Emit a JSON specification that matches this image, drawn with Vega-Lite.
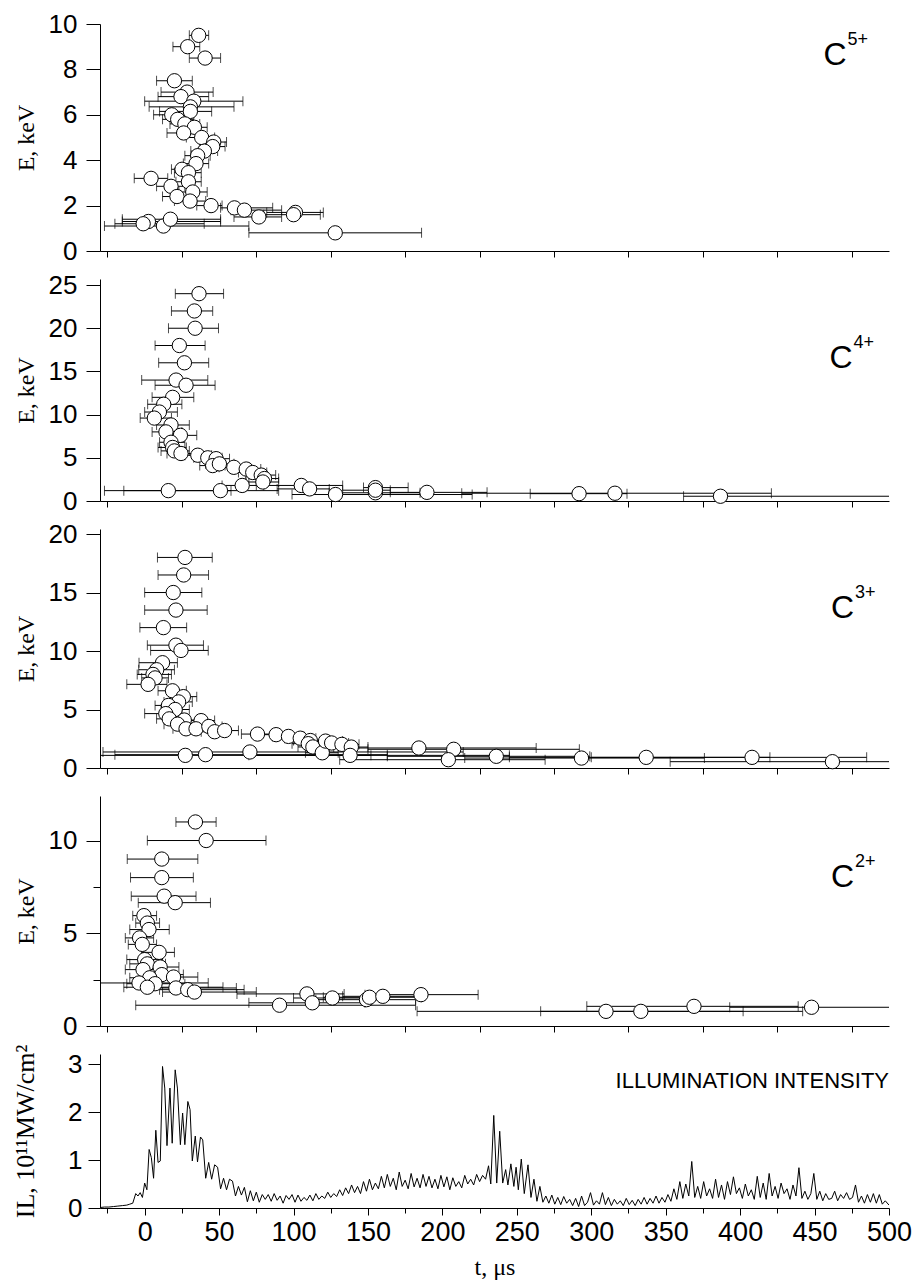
{
"$schema": "https://vega.github.io/schema/vega-lite/v6.json",
"background": "white",
"padding": {"left": 12, "top": 11, "right": 20, "bottom": 4},
"spacing": 28,
"bounds": "flush",
"datasets": {
"c5": [
{"t":36.3,"E":9.5,"lo":30,"hi":43},{"t":28.9,"E":9.0,"lo":19,"hi":37},{"t":40.6,"E":8.5,"lo":30,"hi":51},{"t":20,"E":7.5,"lo":8,"hi":32},
{"t":28.5,"E":7.0,"lo":11,"hi":46},{"t":24.4,"E":6.8,"lo":9,"hi":43},{"t":33,"E":6.6,"lo":0,"hi":66},{"t":30.7,"E":6.35,"lo":3,"hi":60},
{"t":30.7,"E":6.15,"lo":10,"hi":45},{"t":18.2,"E":6.0,"lo":6,"hi":30},{"t":22.2,"E":5.8,"lo":12,"hi":33},{"t":27,"E":5.6,"lo":17,"hi":37},
{"t":33.4,"E":5.45,"lo":24,"hi":42},{"t":26.2,"E":5.2,"lo":15,"hi":37},{"t":38.3,"E":5.0,"lo":28,"hi":47},{"t":46.4,"E":4.8,"lo":38,"hi":55},
{"t":45.7,"E":4.6,"lo":37,"hi":54},{"t":40.1,"E":4.4,"lo":31,"hi":49},{"t":35.6,"E":4.2,"lo":27,"hi":44},{"t":34.5,"E":3.85,"lo":26,"hi":43},
{"t":25.1,"E":3.6,"lo":18,"hi":32},{"t":29.4,"E":3.45,"lo":20,"hi":38},{"t":4.3,"E":3.2,"lo":-7,"hi":15.5},{"t":29.4,"E":3.05,"lo":21,"hi":38},
{"t":17.7,"E":2.85,"lo":8,"hi":27},{"t":32.3,"E":2.6,"lo":23,"hi":42},{"t":21.7,"E":2.4,"lo":12,"hi":32},{"t":30.5,"E":2.2,"lo":20,"hi":41},
{"t":44.6,"E":2.0,"lo":35,"hi":52},{"t":60.3,"E":1.9,"lo":51,"hi":86},{"t":67,"E":1.8,"lo":58,"hi":92},{"t":76.7,"E":1.5,"lo":60,"hi":92},
{"t":101.3,"E":1.7,"lo":82,"hi":120},{"t":100,"E":1.6,"lo":80,"hi":118},{"t":2.5,"E":1.3,"lo":-15,"hi":51},{"t":-1,"E":1.2,"lo":-20,"hi":40},
{"t":12.6,"E":1.1,"lo":-27,"hi":70},{"t":17.3,"E":1.4,"lo":-15,"hi":51},{"t":128,"E":0.8,"lo":70,"hi":186}
],
"c4": [
{"t":36.5,"E":24.0,"lo":20.6,"hi":53},{"t":33.4,"E":22.0,"lo":18,"hi":45.7},{"t":33.9,"E":20.0,"lo":16,"hi":49.6},{"t":23.3,"E":18.0,"lo":7,"hi":40.6},
{"t":26.7,"E":16.0,"lo":9.4,"hi":43},{"t":21.1,"E":14.0,"lo":-2,"hi":42.4},{"t":27.8,"E":13.4,"lo":7,"hi":47.3},{"t":18.8,"E":12.0,"lo":5,"hi":33},
{"t":12.8,"E":11.2,"lo":2,"hi":25},{"t":9.9,"E":10.3,"lo":0,"hi":22},{"t":6.5,"E":9.6,"lo":-3,"hi":18},{"t":17.7,"E":8.8,"lo":8,"hi":30},
{"t":14.3,"E":8.0,"lo":5,"hi":25},{"t":24,"E":7.6,"lo":14,"hi":35},{"t":17.7,"E":6.8,"lo":10,"hi":27},{"t":18.8,"E":6.2,"lo":9,"hi":28},
{"t":20,"E":5.8,"lo":11,"hi":30},{"t":24.4,"E":5.5,"lo":15,"hi":34},{"t":35.7,"E":5.3,"lo":27,"hi":45},{"t":42.4,"E":5.0,"lo":33,"hi":52},
{"t":48,"E":4.9,"lo":40,"hi":57},{"t":45.7,"E":4.1,"lo":37,"hi":54},{"t":50.2,"E":4.3,"lo":41,"hi":60},{"t":59.9,"E":3.9,"lo":50,"hi":70},
{"t":68.2,"E":3.7,"lo":58,"hi":78},{"t":72.6,"E":3.3,"lo":63,"hi":82},{"t":78.3,"E":3.0,"lo":68,"hi":88},{"t":80.5,"E":2.6,"lo":70,"hi":90},
{"t":79.4,"E":2.2,"lo":68,"hi":90},{"t":65.5,"E":1.8,"lo":52,"hi":80},{"t":105.2,"E":1.8,"lo":75,"hi":133},{"t":110.8,"E":1.4,"lo":89,"hi":124},
{"t":15.9,"E":1.2,"lo":-27,"hi":58},{"t":50.9,"E":1.2,"lo":-14,"hi":90},{"t":128.2,"E":0.75,"lo":99,"hi":220},{"t":155,"E":1.55,"lo":147,"hi":177},
{"t":155,"E":0.95,"lo":124,"hi":185},{"t":155,"E":1.25,"lo":133,"hi":165},{"t":189.6,"E":1.0,"lo":165,"hi":230},{"t":291.8,"E":0.85,"lo":259,"hi":324},
{"t":315.9,"E":0.9,"lo":213,"hi":421},{"t":386.8,"E":0.55,"lo":362,"hi":520}
],
"c3": [
{"t":27.1,"E":18.0,"lo":8.6,"hi":45.4},{"t":26.2,"E":16.5,"lo":9,"hi":42.9},{"t":19.2,"E":15.0,"lo":0,"hi":38.4},{"t":21,"E":13.5,"lo":0,"hi":42},
{"t":12.6,"E":12.0,"lo":-3.2,"hi":28.2},{"t":21,"E":10.5,"lo":1.8,"hi":39.5},{"t":24.4,"E":10.05,"lo":4,"hi":42.7},{"t":12,"E":9.0,"lo":-3.8,"hi":22},
{"t":8.1,"E":8.4,"lo":-4,"hi":20},{"t":5.6,"E":8.0,"lo":-5,"hi":18},{"t":7,"E":7.7,"lo":-2,"hi":16},{"t":2.3,"E":7.15,"lo":-12,"hi":15},
{"t":18.7,"E":6.6,"lo":9,"hi":28},{"t":26,"E":6.1,"lo":17,"hi":35},{"t":22.8,"E":5.65,"lo":13,"hi":32},{"t":16,"E":5.35,"lo":7,"hi":25},
{"t":20.5,"E":5.0,"lo":11,"hi":30},{"t":14.2,"E":4.65,"lo":0,"hi":25},{"t":16.5,"E":4.2,"lo":8,"hi":26},{"t":26.6,"E":4.1,"lo":17,"hi":36},
{"t":37.9,"E":4.05,"lo":29,"hi":47},{"t":22.1,"E":3.75,"lo":13,"hi":31},{"t":27.8,"E":3.35,"lo":19,"hi":37},{"t":34.5,"E":3.35,"lo":25,"hi":44},
{"t":43.1,"E":3.55,"lo":34,"hi":52},{"t":47,"E":3.1,"lo":38,"hi":56},{"t":53.7,"E":3.2,"lo":45,"hi":63},{"t":75.8,"E":2.9,"lo":65,"hi":86},
{"t":88.3,"E":2.85,"lo":78,"hi":98},{"t":96.6,"E":2.7,"lo":86,"hi":107},{"t":104.5,"E":2.55,"lo":94,"hi":115},{"t":111.3,"E":2.35,"lo":100,"hi":122},
{"t":109.9,"E":2.08,"lo":99,"hi":121},{"t":113,"E":1.8,"lo":103,"hi":124},{"t":119.3,"E":1.3,"lo":108,"hi":130},{"t":121.5,"E":2.3,"lo":110,"hi":133},
{"t":125.6,"E":2.14,"lo":114,"hi":137},{"t":132.5,"E":2.02,"lo":121,"hi":144},{"t":138.8,"E":1.79,"lo":127,"hi":150},{"t":138,"E":1.08,"lo":70,"hi":245},
{"t":27.3,"E":1.08,"lo":-40,"hi":152},{"t":40.9,"E":1.14,"lo":-20,"hi":163},{"t":70.7,"E":1.37,"lo":-28,"hi":214},{"t":184.2,"E":1.71,"lo":120,"hi":263},
{"t":207.6,"E":1.6,"lo":150,"hi":292},{"t":204,"E":0.71,"lo":131,"hi":269},{"t":236.2,"E":1.0,"lo":163,"hi":299},{"t":293.4,"E":0.85,"lo":215,"hi":376},
{"t":336.9,"E":0.91,"lo":245,"hi":420},{"t":408,"E":0.91,"lo":300,"hi":485},{"t":462,"E":0.54,"lo":353,"hi":520}
],
"c2": [
{"t":34.1,"E":11.0,"lo":21,"hi":48},{"t":41.3,"E":10.0,"lo":1.8,"hi":81.5},{"t":11.5,"E":9.0,"lo":-11.7,"hi":35.7},{"t":11.5,"E":8.0,"lo":-9.5,"hi":32.7},
{"t":13.1,"E":7.0,"lo":-9,"hi":34.5},{"t":20.5,"E":6.65,"lo":-4.3,"hi":44.2},{"t":-0.5,"E":5.95,"lo":-8,"hi":8},{"t":1.8,"E":5.55,"lo":-6,"hi":10},
{"t":2.9,"E":5.2,"lo":-10,"hi":16.5},{"t":-3.4,"E":4.75,"lo":-13,"hi":6},{"t":-1.6,"E":4.4,"lo":-11,"hi":8},{"t":9.7,"E":3.97,"lo":-2,"hi":20},
{"t":0,"E":3.58,"lo":-12,"hi":12},{"t":1.8,"E":3.35,"lo":-10,"hi":14},{"t":10.4,"E":3.18,"lo":-2,"hi":23},{"t":-1.1,"E":3.04,"lo":-13,"hi":11},
{"t":11.5,"E":2.77,"lo":-3,"hi":26},{"t":3.4,"E":2.6,"lo":-10,"hi":17},{"t":19.4,"E":2.64,"lo":2,"hi":35.7},{"t":-3.8,"E":2.32,"lo":-40,"hi":42.7},
{"t":7,"E":2.28,"lo":-12,"hi":27},{"t":1.8,"E":2.09,"lo":-14,"hi":52.6},{"t":21,"E":2.05,"lo":5,"hi":61.6},{"t":28.9,"E":1.96,"lo":10,"hi":66.8},
{"t":33.4,"E":1.83,"lo":12,"hi":75},{"t":109,"E":1.73,"lo":62,"hi":134},{"t":90.6,"E":1.12,"lo":-6,"hi":182},{"t":112.6,"E":1.25,"lo":70,"hi":148},
{"t":126.1,"E":1.51,"lo":100,"hi":160},{"t":149,"E":1.42,"lo":115,"hi":182},{"t":151,"E":1.55,"lo":120,"hi":186},{"t":160,"E":1.6,"lo":133,"hi":186},
{"t":185.6,"E":1.69,"lo":148,"hi":224},{"t":309.9,"E":0.79,"lo":183,"hi":442},{"t":333.3,"E":0.79,"lo":266,"hi":402},{"t":369,"E":1.06,"lo":297,"hi":439},
{"t":448,"E":1.01,"lo":393,"hi":520}
],
"il": [
{"t":-30,"I":0.01},{"t":-27,"I":0.02},{"t":-24,"I":0.02},{"t":-21,"I":0.03},{"t":-18,"I":0.04},{"t":-15,"I":0.05},{"t":-12,"I":0.06},{"t":-10,"I":0.08},
{"t":-8,"I":0.1},{"t":-6,"I":0.3},{"t":-4.5,"I":0.25},{"t":-3,"I":0.32},{"t":-1.5,"I":0.22},{"t":0,"I":0.52},{"t":1.5,"I":0.38},{"t":3,"I":1.22},
{"t":4.5,"I":1.05},{"t":6,"I":0.62},{"t":7.5,"I":1.62},{"t":9,"I":0.95},{"t":10.5,"I":0.98},{"t":12,"I":2.95},{"t":13.5,"I":2.5},{"t":15,"I":1.3},
{"t":17,"I":2.5},{"t":18.5,"I":1.35},{"t":20.5,"I":2.88},{"t":22,"I":2.5},{"t":24,"I":1.32},{"t":25.5,"I":1.98},{"t":27,"I":1.32},{"t":29,"I":2.22},
{"t":30.5,"I":2.05},{"t":32,"I":0.98},{"t":34,"I":1.5},{"t":35.5,"I":0.96},{"t":37.5,"I":1.48},{"t":39,"I":1.42},{"t":41,"I":0.62},{"t":43,"I":0.95},
{"t":45,"I":0.6},{"t":47,"I":0.9},{"t":49,"I":0.85},{"t":51,"I":0.4},{"t":53,"I":0.62},{"t":55,"I":0.38},{"t":57,"I":0.6},{"t":59,"I":0.56},
{"t":61,"I":0.25},{"t":63,"I":0.45},{"t":65,"I":0.27},{"t":67,"I":0.43},{"t":69,"I":0.13},{"t":71,"I":0.36},{"t":73,"I":0.15},{"t":75,"I":0.33},
{"t":77,"I":0.12},{"t":79,"I":0.28},{"t":81,"I":0.18},{"t":83,"I":0.28},{"t":85,"I":0.14},{"t":87,"I":0.3},{"t":89,"I":0.16},{"t":91,"I":0.25},
{"t":93,"I":0.1},{"t":95,"I":0.26},{"t":97,"I":0.18},{"t":99,"I":0.28},{"t":101,"I":0.12},{"t":103,"I":0.27},{"t":105,"I":0.14},{"t":107,"I":0.22},
{"t":109,"I":0.16},{"t":111,"I":0.27},{"t":113,"I":0.15},{"t":115,"I":0.3},{"t":117,"I":0.18},{"t":119,"I":0.25},{"t":121,"I":0.2},{"t":123,"I":0.33},
{"t":125,"I":0.22},{"t":127,"I":0.3},{"t":129,"I":0.24},{"t":131,"I":0.38},{"t":133,"I":0.26},{"t":135,"I":0.42},{"t":137,"I":0.3},{"t":139,"I":0.48},
{"t":141,"I":0.32},{"t":143,"I":0.45},{"t":145,"I":0.3},{"t":147,"I":0.55},{"t":149,"I":0.35},{"t":151,"I":0.6},{"t":153,"I":0.38},{"t":155,"I":0.52},
{"t":157,"I":0.4},{"t":159,"I":0.66},{"t":161,"I":0.42},{"t":163,"I":0.7},{"t":165,"I":0.45},{"t":167,"I":0.62},{"t":169,"I":0.38},{"t":171,"I":0.75},
{"t":173,"I":0.45},{"t":175,"I":0.58},{"t":177,"I":0.4},{"t":179,"I":0.72},{"t":181,"I":0.44},{"t":183,"I":0.62},{"t":185,"I":0.42},{"t":187,"I":0.7},
{"t":189,"I":0.45},{"t":191,"I":0.66},{"t":193,"I":0.42},{"t":195,"I":0.6},{"t":197,"I":0.4},{"t":199,"I":0.68},{"t":201,"I":0.44},{"t":203,"I":0.65},
{"t":205,"I":0.38},{"t":207,"I":0.63},{"t":209,"I":0.45},{"t":211,"I":0.55},{"t":213,"I":0.42},{"t":215,"I":0.68},{"t":217,"I":0.5},{"t":219,"I":0.6},
{"t":221,"I":0.48},{"t":223,"I":0.7},{"t":225,"I":0.55},{"t":227,"I":0.68},{"t":229,"I":0.6},{"t":231,"I":0.88},{"t":232.5,"I":0.5},{"t":234.5,"I":1.93},
{"t":236.5,"I":0.52},{"t":238.5,"I":1.6},{"t":240.5,"I":0.52},{"t":242.5,"I":0.8},{"t":244,"I":0.48},{"t":246,"I":0.92},{"t":248,"I":0.45},{"t":249.5,"I":0.85},
{"t":251,"I":0.38},{"t":253,"I":1.02},{"t":255,"I":0.3},{"t":257.5,"I":0.9},{"t":259.5,"I":0.22},{"t":261.5,"I":0.6},{"t":263.5,"I":0.14},{"t":265.5,"I":0.45},
{"t":267.5,"I":0.12},{"t":269.5,"I":0.25},{"t":271.5,"I":0.1},{"t":273.5,"I":0.27},{"t":275.5,"I":0.08},{"t":277.5,"I":0.22},{"t":279.5,"I":0.07},{"t":281.5,"I":0.24},
{"t":283.5,"I":0.1},{"t":285.5,"I":0.18},{"t":287.5,"I":0.05},{"t":289.5,"I":0.2},{"t":291.5,"I":0.03},{"t":293.5,"I":0.25},{"t":295.5,"I":0.05},{"t":297.5,"I":0.12},
{"t":299.5,"I":0.32},{"t":301.5,"I":0.06},{"t":303.5,"I":0.15},{"t":305.5,"I":0.08},{"t":307.5,"I":0.32},{"t":309.5,"I":0.07},{"t":311.5,"I":0.22},{"t":313.5,"I":0.05},
{"t":315.5,"I":0.18},{"t":317.5,"I":0.08},{"t":319.5,"I":0.15},{"t":321.5,"I":0.05},{"t":323.5,"I":0.2},{"t":325.5,"I":0.07},{"t":327.5,"I":0.16},{"t":329.5,"I":0.05},
{"t":331.5,"I":0.18},{"t":333.5,"I":0.08},{"t":335.5,"I":0.22},{"t":337.5,"I":0.08},{"t":339.5,"I":0.2},{"t":341.5,"I":0.1},{"t":343.5,"I":0.25},{"t":345.5,"I":0.1},
{"t":347.5,"I":0.22},{"t":349.5,"I":0.12},{"t":351.5,"I":0.28},{"t":353.5,"I":0.14},{"t":355.5,"I":0.4},{"t":357.5,"I":0.18},{"t":359.5,"I":0.55},{"t":361.5,"I":0.2},
{"t":363.5,"I":0.5},{"t":365.5,"I":0.25},{"t":367.5,"I":0.97},{"t":369.5,"I":0.22},{"t":371.5,"I":0.45},{"t":373.5,"I":0.2},{"t":375.5,"I":0.55},{"t":377.5,"I":0.25},
{"t":379.5,"I":0.4},{"t":381.5,"I":0.2},{"t":383.5,"I":0.6},{"t":385.5,"I":0.22},{"t":387.5,"I":0.48},{"t":389.5,"I":0.18},{"t":391.5,"I":0.55},{"t":393.5,"I":0.28},
{"t":395.5,"I":0.65},{"t":397.5,"I":0.3},{"t":399.5,"I":0.42},{"t":401.5,"I":0.2},{"t":403.5,"I":0.5},{"t":405.5,"I":0.25},{"t":407.5,"I":0.38},{"t":409.5,"I":0.18},
{"t":411.5,"I":0.66},{"t":413.5,"I":0.22},{"t":415.5,"I":0.52},{"t":417.5,"I":0.18},{"t":419.5,"I":0.72},{"t":421.5,"I":0.25},{"t":423.5,"I":0.45},{"t":425.5,"I":0.2},
{"t":427.5,"I":0.52},{"t":429.5,"I":0.3},{"t":431.5,"I":0.4},{"t":433.5,"I":0.18},{"t":435.5,"I":0.48},{"t":437.5,"I":0.25},{"t":439.5,"I":0.84},{"t":441.5,"I":0.2},
{"t":443.5,"I":0.35},{"t":445.5,"I":0.18},{"t":447.5,"I":0.3},{"t":449.5,"I":0.72},{"t":451.5,"I":0.18},{"t":453.5,"I":0.35},{"t":455.5,"I":0.15},{"t":457.5,"I":0.3},
{"t":459.5,"I":0.18},{"t":461.5,"I":0.2},{"t":463.5,"I":0.35},{"t":465.5,"I":0.15},{"t":467.5,"I":0.28},{"t":469.5,"I":0.2},{"t":471.5,"I":0.32},{"t":473.5,"I":0.18},
{"t":475.5,"I":0.22},{"t":477.5,"I":0.48},{"t":479.5,"I":0.12},{"t":481.5,"I":0.25},{"t":483.5,"I":0.1},{"t":485.5,"I":0.28},{"t":487.5,"I":0.12},{"t":489.5,"I":0.3},
{"t":491.5,"I":0.1},{"t":493.5,"I":0.28},{"t":495.5,"I":0.08},{"t":497.5,"I":0.15},{"t":500,"I":0.06}
]
},
"vconcat": [
{
"width": 789, "height": 227,
"layer": [
{"data": {"name": "c5"}, "mark": {"type": "rule", "color": "black", "strokeWidth": 1, "clip": true},
 "encoding": {
  "x": {"field": "lo", "type": "quantitative", "title": null, "scale": {"domain": [-30, 500], "nice": false, "zero": false},
        "axis": {"values": [-25,0,25,50,75,100,125,150,175,200,225,250,275,300,325,350,375,400,425,450,475,500], "labels": false, "title": null,
                 "tickSize": {"condition": {"test": "datum.value % 50 === 0", "value": 13}, "value": 6}}},
  "x2": {"field": "hi"},
  "y": {"field": "E", "type": "quantitative", "title": "E, keV", "scale": {"domain": [0, 10], "nice": false, "zero": false},
        "axis": {"values": [0,1,2,3,4,5,6,7,8,9,10], "labelExpr": "datum.value % 2 === 0 ? datum.label : ''",
                 "tickSize": {"condition": {"test": "datum.value % 2 === 0", "value": 14}, "value": 7}, "labelPadding": 9}}}},
{"data": {"name": "c5"}, "mark": {"type": "tick", "orient": "vertical", "size": 10, "thickness": 1, "color": "black", "clip": true},
 "encoding": {"x": {"field": "lo", "type": "quantitative"}, "y": {"field": "E", "type": "quantitative"}}},
{"data": {"name": "c5"}, "mark": {"type": "tick", "orient": "vertical", "size": 10, "thickness": 1, "color": "black", "clip": true},
 "encoding": {"x": {"field": "hi", "type": "quantitative"}, "y": {"field": "E", "type": "quantitative"}}},
{"data": {"name": "c5"}, "mark": {"type": "point", "shape": "circle", "size": 205, "filled": true, "fill": "white", "stroke": "black", "strokeWidth": 1, "opacity": 1},
 "encoding": {"x": {"field": "t", "type": "quantitative"}, "y": {"field": "E", "type": "quantitative"}}},
{"data": {"values": [{"ion": "C", "q": "5+"}]}, "mark": {"type": "text", "font": "Liberation Sans", "fontSize": 32, "align": "left", "baseline": "alphabetic", "color": "black"},
 "encoding": {"x": {"datum": 456}, "y": {"datum": 8.2}, "text": {"field": "ion"}}},
{"data": {"values": [{"ion": "C", "q": "5+"}]}, "mark": {"type": "text", "font": "Liberation Sans", "fontSize": 18, "align": "left", "baseline": "alphabetic", "dx": 24, "dy": -20, "color": "black"},
 "encoding": {"x": {"datum": 456}, "y": {"datum": 8.2}, "text": {"field": "q"}}}
]
},
{
"width": 789, "height": 222,
"layer": [
{"data": {"name": "c4"}, "mark": {"type": "rule", "color": "black", "strokeWidth": 1, "clip": true},
 "encoding": {
  "x": {"field": "lo", "type": "quantitative", "title": null, "scale": {"domain": [-30, 500], "nice": false, "zero": false},
        "axis": {"values": [-25,0,25,50,75,100,125,150,175,200,225,250,275,300,325,350,375,400,425,450,475,500], "labels": false, "title": null,
                 "tickSize": {"condition": {"test": "datum.value % 50 === 0", "value": 13}, "value": 6}}},
  "x2": {"field": "hi"},
  "y": {"field": "E", "type": "quantitative", "title": "E, keV", "scale": {"domain": [0, 25.7], "nice": false, "zero": false},
        "axis": {"values": [0,2.5,5,7.5,10,12.5,15,17.5,20,22.5,25], "labelExpr": "datum.value % 5 === 0 ? datum.label : ''",
                 "tickSize": {"condition": {"test": "datum.value % 5 === 0", "value": 14}, "value": 7}, "labelPadding": 9}}}},
{"data": {"name": "c4"}, "mark": {"type": "tick", "orient": "vertical", "size": 10, "thickness": 1, "color": "black", "clip": true},
 "encoding": {"x": {"field": "lo", "type": "quantitative"}, "y": {"field": "E", "type": "quantitative"}}},
{"data": {"name": "c4"}, "mark": {"type": "tick", "orient": "vertical", "size": 10, "thickness": 1, "color": "black", "clip": true},
 "encoding": {"x": {"field": "hi", "type": "quantitative"}, "y": {"field": "E", "type": "quantitative"}}},
{"data": {"name": "c4"}, "mark": {"type": "point", "shape": "circle", "size": 205, "filled": true, "fill": "white", "stroke": "black", "strokeWidth": 1, "opacity": 1},
 "encoding": {"x": {"field": "t", "type": "quantitative"}, "y": {"field": "E", "type": "quantitative"}}},
{"data": {"values": [{"ion": "C", "q": "4+"}]}, "mark": {"type": "text", "font": "Liberation Sans", "fontSize": 32, "align": "left", "baseline": "alphabetic", "color": "black"},
 "encoding": {"x": {"datum": 460}, "y": {"datum": 15.4}, "text": {"field": "ion"}}},
{"data": {"values": [{"ion": "C", "q": "4+"}]}, "mark": {"type": "text", "font": "Liberation Sans", "fontSize": 18, "align": "left", "baseline": "alphabetic", "dx": 24, "dy": -20, "color": "black"},
 "encoding": {"x": {"datum": 460}, "y": {"datum": 15.4}, "text": {"field": "q"}}}
]
},
{
"width": 789, "height": 239,
"layer": [
{"data": {"name": "c3"}, "mark": {"type": "rule", "color": "black", "strokeWidth": 1, "clip": true},
 "encoding": {
  "x": {"field": "lo", "type": "quantitative", "title": null, "scale": {"domain": [-30, 500], "nice": false, "zero": false},
        "axis": {"values": [-25,0,25,50,75,100,125,150,175,200,225,250,275,300,325,350,375,400,425,450,475,500], "labels": false, "title": null,
                 "tickSize": {"condition": {"test": "datum.value % 50 === 0", "value": 13}, "value": 6}}},
  "x2": {"field": "hi"},
  "y": {"field": "E", "type": "quantitative", "title": "E, keV", "scale": {"domain": [0, 20.43], "nice": false, "zero": false},
        "axis": {"values": [0,2.5,5,7.5,10,12.5,15,17.5,20], "labelExpr": "datum.value % 5 === 0 ? datum.label : ''",
                 "tickSize": {"condition": {"test": "datum.value % 5 === 0", "value": 14}, "value": 7}, "labelPadding": 9}}}},
{"data": {"name": "c3"}, "mark": {"type": "tick", "orient": "vertical", "size": 10, "thickness": 1, "color": "black", "clip": true},
 "encoding": {"x": {"field": "lo", "type": "quantitative"}, "y": {"field": "E", "type": "quantitative"}}},
{"data": {"name": "c3"}, "mark": {"type": "tick", "orient": "vertical", "size": 10, "thickness": 1, "color": "black", "clip": true},
 "encoding": {"x": {"field": "hi", "type": "quantitative"}, "y": {"field": "E", "type": "quantitative"}}},
{"data": {"name": "c3"}, "mark": {"type": "point", "shape": "circle", "size": 205, "filled": true, "fill": "white", "stroke": "black", "strokeWidth": 1, "opacity": 1},
 "encoding": {"x": {"field": "t", "type": "quantitative"}, "y": {"field": "E", "type": "quantitative"}}},
{"data": {"values": [{"ion": "C", "q": "3+"}]}, "mark": {"type": "text", "font": "Liberation Sans", "fontSize": 32, "align": "left", "baseline": "alphabetic", "color": "black"},
 "encoding": {"x": {"datum": 461}, "y": {"datum": 12.8}, "text": {"field": "ion"}}},
{"data": {"values": [{"ion": "C", "q": "3+"}]}, "mark": {"type": "text", "font": "Liberation Sans", "fontSize": 18, "align": "left", "baseline": "alphabetic", "dx": 24, "dy": -20, "color": "black"},
 "encoding": {"x": {"datum": 461}, "y": {"datum": 12.8}, "text": {"field": "q"}}}
]
},
{
"width": 789, "height": 230,
"layer": [
{"data": {"name": "c2"}, "mark": {"type": "rule", "color": "black", "strokeWidth": 1, "clip": true},
 "encoding": {
  "x": {"field": "lo", "type": "quantitative", "title": null, "scale": {"domain": [-30, 500], "nice": false, "zero": false},
        "axis": {"values": [-25,0,25,50,75,100,125,150,175,200,225,250,275,300,325,350,375,400,425,450,475,500], "labels": false, "title": null,
                 "tickSize": {"condition": {"test": "datum.value % 50 === 0", "value": 13}, "value": 6}}},
  "x2": {"field": "hi"},
  "y": {"field": "E", "type": "quantitative", "title": "E, keV", "scale": {"domain": [0, 12.4], "nice": false, "zero": false},
        "axis": {"values": [0,2.5,5,7.5,10], "labelExpr": "datum.value % 5 === 0 ? datum.label : ''",
                 "tickSize": {"condition": {"test": "datum.value % 5 === 0", "value": 14}, "value": 7}, "labelPadding": 9}}}},
{"data": {"name": "c2"}, "mark": {"type": "tick", "orient": "vertical", "size": 10, "thickness": 1, "color": "black", "clip": true},
 "encoding": {"x": {"field": "lo", "type": "quantitative"}, "y": {"field": "E", "type": "quantitative"}}},
{"data": {"name": "c2"}, "mark": {"type": "tick", "orient": "vertical", "size": 10, "thickness": 1, "color": "black", "clip": true},
 "encoding": {"x": {"field": "hi", "type": "quantitative"}, "y": {"field": "E", "type": "quantitative"}}},
{"data": {"name": "c2"}, "mark": {"type": "point", "shape": "circle", "size": 205, "filled": true, "fill": "white", "stroke": "black", "strokeWidth": 1, "opacity": 1},
 "encoding": {"x": {"field": "t", "type": "quantitative"}, "y": {"field": "E", "type": "quantitative"}}},
{"data": {"values": [{"ion": "C", "q": "2+"}]}, "mark": {"type": "text", "font": "Liberation Sans", "fontSize": 32, "align": "left", "baseline": "alphabetic", "color": "black"},
 "encoding": {"x": {"datum": 461}, "y": {"datum": 7.5}, "text": {"field": "ion"}}},
{"data": {"values": [{"ion": "C", "q": "2+"}]}, "mark": {"type": "text", "font": "Liberation Sans", "fontSize": 18, "align": "left", "baseline": "alphabetic", "dx": 24, "dy": -20, "color": "black"},
 "encoding": {"x": {"datum": 461}, "y": {"datum": 7.5}, "text": {"field": "q"}}}
]
},
{
"width": 789, "height": 154,
"resolve": {"axis": {"x": "independent"}},
"layer": [
{"data": {"name": "il"}, "mark": {"type": "line", "color": "black", "strokeWidth": 1, "clip": true},
 "encoding": {
  "x": {"field": "t", "type": "quantitative", "title": "t, μs", "scale": {"domain": [-30, 500], "nice": false, "zero": false},
        "axis": {"values": [0,50,100,150,200,250,300,350,400,450,500], "orient": "bottom",
                 "labelFontSize": 27, "labelPadding": 4, "labelFlush": false, "labelOverlap": false,
                 "titleFontSize": 24, "titlePadding": 10, "tickSize": 7}},
  "y": {"field": "I", "type": "quantitative", "title": "IL, 10¹¹MW/cm²", "scale": {"domain": [0, 3.21], "nice": false, "zero": false},
        "axis": {"values": [0,1,2,3], "tickSize": 12, "labelPadding": 6, "titleFontSize": 26}}}},
{"data": {"values": [{"lbl": "ILLUMINATION INTENSITY"}]}, "mark": {"type": "text", "font": "Liberation Sans", "fontSize": 22, "align": "right", "baseline": "alphabetic", "color": "black"},
 "encoding": {"x": {"datum": 500, "axis": {"values": [-25,25,75,125,175,225,275,325,375,425,475], "orient": "bottom", "labels": false, "domain": false, "title": null, "tickSize": 5}},
              "y": {"datum": 2.5}, "text": {"field": "lbl"}}}
]
}
],
"config": {
 "view": {"stroke": null},
 "axis": {"domainColor": "black", "tickColor": "black", "labelColor": "black", "titleColor": "black", "grid": false,
          "labelFont": "Liberation Sans", "labelFontSize": 26, "titleFont": "Liberation Serif", "titleFontSize": 24, "titleFontWeight": "normal",
          "domainWidth": 1, "tickWidth": 1, "labelFlush": false, "labelOverlap": false},
 "axisY": {"titleX": -62}
}
}
